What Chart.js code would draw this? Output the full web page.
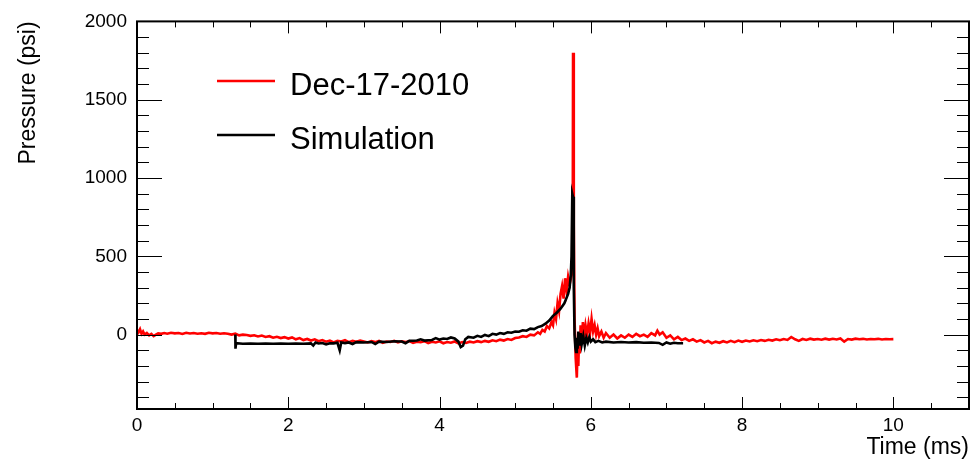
<!DOCTYPE html>
<html>
<head>
<meta charset="utf-8">
<script src="https://cdn.jsdelivr.net/npm/chart.js@4/dist/chart.umd.min.js"></script>
<style>
  html, body { margin: 0; padding: 0; background: #fff; }
  #wrap { width: 980px; height: 464px; }
</style>
</head>
<body>
<div id="wrap"><canvas id="pressureChart"></canvas></div>
<script>
// measured shot (ms, psi)
const measuredTime = [
  0.00, 0.02, 0.04, 0.06, 0.08, 0.10, 0.13, 0.16, 0.19, 0.22, 0.25, 0.28, 0.32, 0.36, 0.40, 0.45,
  0.50, 0.55, 0.60, 0.65, 0.70, 0.75, 0.80, 0.85, 0.90, 0.95, 1.00, 1.05, 1.10, 1.15, 1.20, 1.25,
  1.30, 1.35, 1.40, 1.45, 1.50, 1.55, 1.60, 1.65, 1.70, 1.75, 1.80, 1.85, 1.90, 1.95, 2.00, 2.05,
  2.10, 2.15, 2.20, 2.25, 2.30, 2.35, 2.40, 2.45, 2.50, 2.55, 2.60, 2.65, 2.70, 2.75, 2.80, 2.85,
  2.90, 2.95, 3.00, 3.05, 3.10, 3.15, 3.20, 3.25, 3.30, 3.35, 3.40, 3.45, 3.50, 3.55, 3.60, 3.65,
  3.70, 3.75, 3.80, 3.85, 3.90, 3.95, 4.00, 4.05, 4.10, 4.15, 4.20, 4.25, 4.30, 4.35, 4.40, 4.45,
  4.50, 4.55, 4.60, 4.65, 4.70, 4.75, 4.80, 4.85, 4.90, 4.95, 5.00, 5.05, 5.10, 5.15, 5.20, 5.25,
  5.30, 5.33, 5.36, 5.39, 5.42, 5.45, 5.48, 5.50, 5.52, 5.54, 5.56, 5.58, 5.60, 5.62, 5.64, 5.66,
  5.68, 5.70, 5.72, 5.745, 5.76, 5.765, 5.775, 5.785, 5.80, 5.815, 5.825, 5.835, 5.845, 5.855, 5.865, 5.88,
  5.895, 5.91, 5.93, 5.95, 5.97, 5.99, 6.01, 6.03, 6.05, 6.07, 6.09, 6.11, 6.14, 6.17, 6.20, 6.25,
  6.30, 6.35, 6.40, 6.45, 6.50, 6.55, 6.60, 6.65, 6.70, 6.75, 6.80, 6.85, 6.88, 6.91, 6.95, 7.00,
  7.05, 7.10, 7.15, 7.20, 7.25, 7.30, 7.35, 7.40, 7.45, 7.50, 7.55, 7.60, 7.65, 7.70, 7.75, 7.80,
  7.85, 7.90, 7.95, 8.00, 8.05, 8.10, 8.15, 8.20, 8.25, 8.30, 8.35, 8.40, 8.45, 8.50, 8.55, 8.60,
  8.65, 8.70, 8.75, 8.80, 8.85, 8.90, 8.95, 9.00, 9.05, 9.10, 9.15, 9.20, 9.25, 9.30, 9.35, 9.40,
  9.45, 9.50, 9.55, 9.60, 9.65, 9.70, 9.75, 9.80, 9.85, 9.90, 9.95, 10.00
];
const measuredPressure = [
  30, 15, 35, 5, 20, 0, 10, -5, 5, -10, 0, 8, 5, 10, 6, 12,
  8, 10, 4, 12, 7, 10, 6, 9, 5, 12, 8, 10, 6, 9, 5, 0,
  6, -5, 0, -3, -8, -4, -12, -6, -15, -10, -20, -14, -22, -16, -25, -18,
  -30, -22, -35, -28, -38, -30, -42, -35, -45, -38, -50, -40, -44, -36, -48, -40,
  -46, -38, -44, -50, -42, -48, -40, -52, -44, -47, -40, -50, -43, -48, -41, -52,
  -45, -49, -42, -54, -46, -50, -43, -55, -47, -52, -44, -56, -48, -53, -45, -50,
  -42, -48, -40, -46, -36, -42, -32, -38, -28, -34, -22, -18, -10, -15, 0, -5,
  15, 5, 30, 20, 55, 40, 80, 60, 140, 100, 200, 150, 260, 310, 230, 360,
  280, 370, 320, 380, 400, 1800, 700, 100, -150, -275, -80, -200, 0, -120, 60, -60,
  80, -20, 60, 0, 70, 10, 100, 20, 60, 0, 40, -10, 20, -20, 10, -20,
  0, -25, -5, -20, 0, -15, 5, -10, 0, -15, 10, -5, 25, 0, 15, -20,
  -5, -30, -15, -35, -25, -40, -30, -45, -35, -50, -40, -55, -45, -52, -42, -50,
  -40, -48, -38, -46, -38, -44, -36, -42, -35, -40, -33, -38, -30, -36, -28, -34,
  -15, -30, -40, -28, -34, -26, -32, -28, -33, -26, -32, -27, -31, -25, -45, -28,
  -32, -26, -30, -27, -31, -28, -30, -27, -31, -28, -30, -29
];

// simulation (ms, psi)
const simTime = [
  1.30, 1.302, 1.31, 1.40, 1.50, 1.60, 1.70, 1.80, 1.90, 2.00, 2.10, 2.20, 2.30, 2.33, 2.36, 2.40,
  2.45, 2.50, 2.55, 2.60, 2.65, 2.68, 2.70, 2.75, 2.80, 2.85, 2.90, 3.00, 3.10, 3.15, 3.20, 3.30,
  3.40, 3.50, 3.55, 3.60, 3.70, 3.75, 3.80, 3.90, 3.95, 4.00, 4.05, 4.10, 4.15, 4.20, 4.25, 4.28,
  4.31, 4.34, 4.38, 4.45, 4.50, 4.55, 4.60, 4.65, 4.70, 4.75, 4.80, 4.85, 4.90, 4.95, 5.00, 5.05,
  5.10, 5.15, 5.20, 5.25, 5.30, 5.35, 5.40, 5.45, 5.50, 5.55, 5.60, 5.65, 5.70, 5.72, 5.735, 5.745,
  5.755, 5.765, 5.775, 5.785, 5.795, 5.805, 5.815, 5.825, 5.835, 5.85, 5.865, 5.88, 5.90, 5.92, 5.94, 5.96,
  5.98, 6.00, 6.03, 6.06, 6.10, 6.15, 6.20, 6.30, 6.40, 6.50, 6.60, 6.70, 6.80, 6.90, 6.95, 7.00,
  7.05, 7.10, 7.15, 7.22
];
const simPressure = [
  0, -90, -55, -58, -57, -58, -57, -58, -57, -58, -57, -58, -56, -70, -50, -57,
  -54, -62, -55, -56, -52, -100, -50, -54, -50, -60, -48, -50, -47, -60, -45, -47,
  -42, -44, -55, -40, -38, -30, -38, -34, -22, -32, -25, -28, -18, -25, -45, -80,
  -70, -30, -15, -20, -8, -15, -2, -10, 5, 0, 10, 5, 15, 12, 20, 18,
  28, 25, 38, 35, 48, 55, 70, 90, 120, 140, 165, 200, 260, 300, 380, 500,
  900, 880, 300, 0, -80, -110, -20, -90, 20, -70, 10, -60, -10, -70, -20, -50,
  -15, -45, -30, -48, -40, -50, -45, -50, -47, -50, -48, -52, -50, -53, -65, -50,
  -58, -52, -55, -55
];

const xTickValues = [0, 2, 4, 6, 8, 10];
const yTickValues = [0, 500, 1000, 1500, 2000];
const seriesLabels = ["Dec-17-2010", "Simulation"];

const toPoints = (xs, ys) => xs.map((t, i) => ({ x: t, y: ys[i] }));

// ROOT-style frame with inward ticks on all four sides
const frameTicks = {
  id: "frameTicks",
  afterDatasetsDraw(chart) {
    const { ctx, chartArea: a, scales: { x, y } } = chart;
    ctx.save();
    ctx.strokeStyle = "#000";
    ctx.lineWidth = 1;
    ctx.beginPath();
    for (let v = 0; v <= 11.001; v += 0.5) {
      const px = Math.round(x.getPixelForValue(v)) + 0.5;
      const len = Math.abs(v % 2) < 1e-6 ? 12 : 6;
      ctx.moveTo(px, a.bottom); ctx.lineTo(px, a.bottom - len);
      ctx.moveTo(px, a.top); ctx.lineTo(px, a.top + len);
    }
    for (let v = -400; v <= 2000; v += 100) {
      const py = Math.round(y.getPixelForValue(v)) + 0.5;
      const len = v % 500 === 0 ? 25 : 12;
      ctx.moveTo(a.left, py); ctx.lineTo(a.left + len, py);
      ctx.moveTo(a.right, py); ctx.lineTo(a.right - len, py);
    }
    ctx.stroke();
    ctx.lineWidth = 2;
    ctx.strokeRect(a.left, a.top, a.right - a.left, a.bottom - a.top);
    ctx.restore();
  },
  afterDraw(chart) {
    const { ctx } = chart;
    const items = [
      { label: seriesLabels[0], color: "#ff0000", y: 81 },
      { label: seriesLabels[1], color: "#000000", y: 135 }
    ];
    ctx.save();
    ctx.font = "31px 'Liberation Sans', Arial, sans-serif";
    ctx.textBaseline = "middle";
    items.forEach(it => {
      ctx.strokeStyle = it.color;
      ctx.lineWidth = 2.5;
      ctx.beginPath();
      ctx.moveTo(217, it.y);
      ctx.lineTo(275, it.y);
      ctx.stroke();
      ctx.fillStyle = "#000";
      ctx.fillText(it.label, 290, it.y + 5);
    });
    ctx.restore();
  }
};

const tickFont = { family: "'Liberation Sans', Arial, sans-serif", size: 19 };
const titleFont = { family: "'Liberation Sans', Arial, sans-serif", size: 23 };

new Chart(document.getElementById("pressureChart"), {
  type: "scatter",
  data: {
    datasets: [
      {
        label: seriesLabels[0],
        data: toPoints(measuredTime, measuredPressure),
        showLine: true,
        borderColor: "#ff0000",
        borderWidth: 2.6,
        pointRadius: 0,
        tension: 0,
        order: 1
      },
      {
        label: seriesLabels[1],
        data: toPoints(simTime, simPressure),
        showLine: true,
        borderColor: "#000000",
        borderWidth: 2.6,
        pointRadius: 0,
        tension: 0,
        order: 0
      }
    ]
  },
  options: {
    responsive: true,
    maintainAspectRatio: false,
    devicePixelRatio: 1,
    animation: false,
    layout: { padding: { top: 12, right: 11, left: 0, bottom: 0 } },
    plugins: {
      legend: { display: false },
      tooltip: { enabled: false }
    },
    scales: {
      x: {
        type: "linear",
        min: 0,
        max: 11,
        grid: { display: false, drawTicks: false },
        border: { display: false },
        afterBuildTicks: s => { s.ticks = xTickValues.map(v => ({ value: v })); },
        afterFit: s => { s.height = 55; },
        ticks: { color: "#000", font: tickFont, padding: 5, maxRotation: 0, callback: v => String(v) },
        title: {
          display: true,
          text: "Time (ms)",
          align: "end",
          color: "#000",
          font: titleFont,
          padding: { top: 0, bottom: 3 }
        }
      },
      y: {
        type: "linear",
        min: -475,
        max: 2000,
        grid: { display: false, drawTicks: false },
        border: { display: false },
        afterBuildTicks: s => { s.ticks = yTickValues.map(v => ({ value: v })); },
        afterFit: s => { s.width = 137; },
        ticks: { color: "#000", font: tickFont, padding: 10, callback: v => String(v) },
        title: {
          display: true,
          text: "Pressure (psi)",
          align: "end",
          color: "#000",
          font: titleFont,
          padding: { top: 15, bottom: 0 }
        }
      }
    }
  },
  plugins: [frameTicks]
});
</script>
</body>
</html>
